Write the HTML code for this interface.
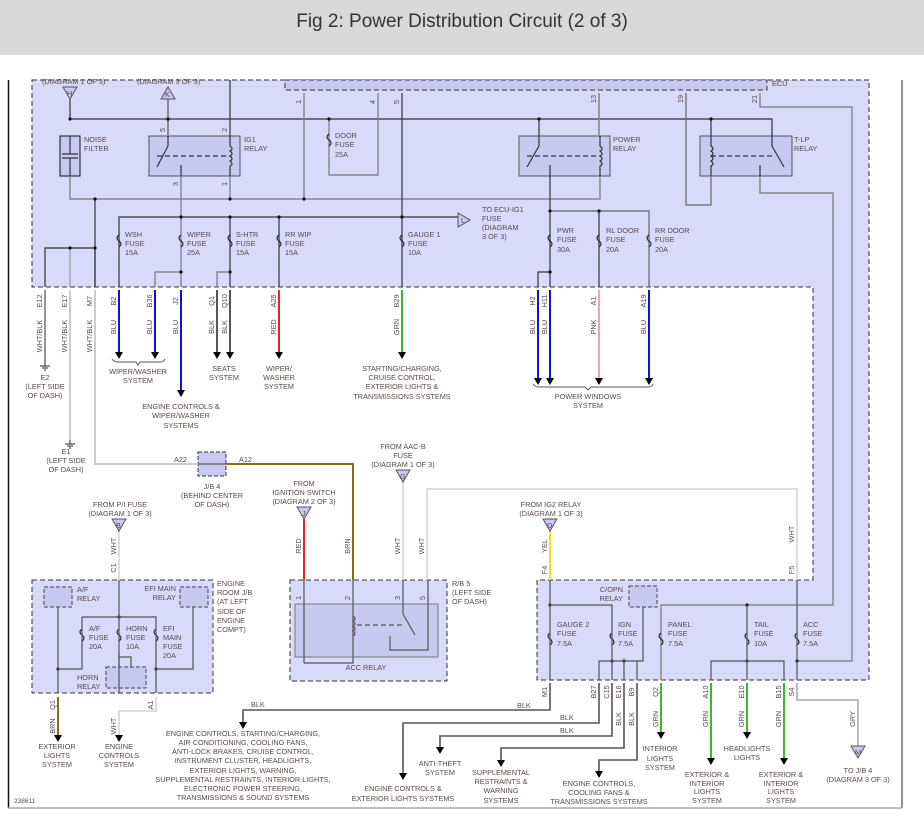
<!DOCTYPE html>
<html><head><meta charset="utf-8"><style>
html,body{margin:0;padding:0;background:#fff;width:924px;height:838px;overflow:hidden}
svg text{font-family:"Liberation Sans",sans-serif;font-size:7.3px;fill:#5a4a4a}
.r{font-size:7px}
</style></head><body>
<svg width="924" height="838" viewBox="0 0 924 838" xmlns="http://www.w3.org/2000/svg">
<rect x="0" y="0" width="924" height="55" fill="#d9d9d9"/>
<text x="462" y="27" text-anchor="middle" style="font-size:19px;fill:#333">Fig 2: Power Distribution Circuit (2 of 3)</text>
<line x1="8.5" y1="80" x2="8.5" y2="808" stroke="#111" stroke-width="1.5"/>
<line x1="902" y1="80" x2="902" y2="808" stroke="#222" stroke-width="1"/>
<line x1="8" y1="808" x2="902" y2="808" stroke="#aaa" stroke-width="1.5"/>

<!-- purple areas -->
<polygon points="32,80 869,80 869,680 537,680 537,580 813,580 813,287 32,287" fill="#d9d9fa" stroke="#333" stroke-width="1" stroke-dasharray="5,3"/>
<rect x="285" y="80" width="482" height="10" fill="#c8c8f0" stroke="#333" stroke-dasharray="5,3"/>
<rect x="32" y="580" width="181" height="113" fill="#d9d9fa" stroke="#333" stroke-dasharray="5,3"/>
<rect x="290" y="580" width="157" height="101" fill="#d9d9fa" stroke="#333" stroke-dasharray="5,3"/>
<rect x="295" y="604" width="143" height="53" fill="#c8c8f0" stroke="#777"/>
<rect x="198" y="452" width="28" height="24" fill="#c8c8f0" stroke="#333" stroke-dasharray="4,2"/>

<!-- relay boxes top -->
<rect x="60" y="136" width="20" height="40" fill="#c8c8f0" stroke="#111"/>
<rect x="149" y="136" width="91" height="40" fill="#c8c8f0" stroke="#555"/>
<rect x="519" y="136" width="91" height="40" fill="#c8c8f0" stroke="#555"/>
<rect x="700" y="136" width="92" height="40" fill="#c8c8f0" stroke="#555"/>
<rect x="44" y="587" width="28" height="20" fill="#c8c8f0" stroke="#444" stroke-dasharray="4,2"/>
<rect x="180" y="587" width="28" height="20" fill="#c8c8f0" stroke="#444" stroke-dasharray="4,2"/>
<rect x="106" y="667" width="40" height="21" fill="#c8c8f0" stroke="#444" stroke-dasharray="4,2"/>
<rect x="629" y="586" width="28" height="21" fill="#c8c8f0" stroke="#444" stroke-dasharray="4,2"/>

<g fill="none" stroke="#333" stroke-width="1.2">
<!-- top bus -->
<path d="M70,93 V119 H772 V136"/>
<path d="M168,93 V136" stroke="#888" stroke-width="2"/>
<path d="M230,80 V136"/>
<path d="M329,119 V175 H378 V93" stroke="#777"/>
<path d="M304,93 V199" stroke="#777"/>
<path d="M70,176 V199 H600 V176" stroke="#777"/>
<path d="M230,176 V199" stroke="#777"/>
<path d="M181,176 V287" stroke="#777"/>
<path d="M402,93 V287"/>
<path d="M119,287 V217 H465"/>
<path d="M230,217 V287"/><path d="M279,217 V287"/>
<path d="M45,287 V248 H95 V287"/><path d="M95,199 V287"/>
<path d="M70,248 V287" stroke="#999"/>
<path d="M155,287 V272 H181" stroke="#777"/>
<path d="M217,287 V272 H230" stroke="#777"/>
<path d="M599,93 V136" stroke="#888" stroke-width="1.6"/>
<path d="M539,119 V136"/><path d="M711,119 V136"/>
<path d="M550,176 V287"/><path d="M538,287 V272 H550"/>
<path d="M550,211 H649 V287" stroke="#666"/><path d="M599,211 V287"/>
<path d="M686,93 V205 H711 V176" stroke="#666"/>
<path d="M760,93 V107 H852 V661 H797" stroke="#777"/>
<path d="M760,176 V193 H833 V605 H661 V680" stroke="#777"/>
<!-- relay internals -->
<path d="M168,136 V146 L157,167"/><path d="M157,156 H230" stroke-dasharray="5,3"/><path d="M181,165 V176"/>
<path d="M230,136 V146 q4,3 0,5 q4,3 0,5 q4,3 0,5 q4,3 0,5 V176"/>
<path d="M539,136 V146 L527,167"/><path d="M527,156 H600" stroke-dasharray="5,3"/><path d="M550,165 V176"/>
<path d="M600,136 V146 q4,3 0,5 q4,3 0,5 q4,3 0,5 q4,3 0,5 V176"/>
<path d="M772,136 V146 L784,167"/><path d="M711,156 H772" stroke-dasharray="5,3"/><path d="M760,165 V176"/>
<path d="M711,136 V146 q4,3 0,5 q4,3 0,5 q4,3 0,5 q4,3 0,5 V176"/>
<path d="M70,136 V154 M62,154 H78 M62,158 H78 M70,158 V176"/>
</g>
<!-- fuses -->
<g fill="none" stroke="#222" stroke-width="1.1">
<path d="M119,235 q-4,3 0,6 q4,3 0,6"/><path d="M181,235 q-4,3 0,6 q4,3 0,6"/><path d="M230,235 q-4,3 0,6 q4,3 0,6"/><path d="M279,235 q-4,3 0,6 q4,3 0,6"/><path d="M402,235 q-4,3 0,6 q4,3 0,6"/><path d="M329,134 q-4,3 0,6 q4,3 0,6"/>
<path d="M550,235 q-4,3 0,6 q4,3 0,6"/><path d="M599,235 q-4,3 0,6 q4,3 0,6"/><path d="M649,235 q-4,3 0,6 q4,3 0,6"/>
<path d="M82,629 q-4,3 0,6 q4,3 0,6"/><path d="M119,629 q-4,3 0,6 q4,3 0,6"/><path d="M156,629 q-4,3 0,6 q4,3 0,6"/>
<path d="M550,633 q-4,3 0,6 q4,3 0,6"/><path d="M612,633 q-4,3 0,6 q4,3 0,6"/><path d="M661,633 q-4,3 0,6 q4,3 0,6"/><path d="M747,633 q-4,3 0,6 q4,3 0,6"/><path d="M797,633 q-4,3 0,6 q4,3 0,6"/>
</g>
<g fill="#111">
<circle cx="70" cy="119" r="1.6"/><circle cx="168" cy="119" r="1.6"/><circle cx="329" cy="119" r="1.6"/><circle cx="539" cy="119" r="1.6"/><circle cx="711" cy="119" r="1.6"/>
<circle cx="95" cy="199" r="1.6"/><circle cx="230" cy="199" r="1.6"/><circle cx="304" cy="199" r="1.6"/>
<circle cx="181" cy="217" r="1.6"/><circle cx="230" cy="217" r="1.6"/><circle cx="279" cy="217" r="1.6"/><circle cx="402" cy="217" r="1.6"/>
<circle cx="70" cy="248" r="1.6"/><circle cx="95" cy="248" r="1.6"/><circle cx="181" cy="272" r="1.6"/><circle cx="230" cy="272" r="1.6"/>
<circle cx="550" cy="211" r="1.6"/><circle cx="599" cy="211" r="1.6"/><circle cx="550" cy="272" r="1.6"/>
<circle cx="119" cy="617" r="1.6"/><circle cx="58" cy="669" r="1.6"/><circle cx="156" cy="669" r="1.6"/>
<circle cx="550" cy="605" r="1.6"/><circle cx="747" cy="605" r="1.6"/><circle cx="612" cy="661" r="1.6"/><circle cx="624" cy="661" r="1.6"/><circle cx="747" cy="661" r="1.6"/><circle cx="797" cy="661" r="1.6"/>
</g>

<!-- wires below top box -->
<g fill="none" stroke-width="2">
<path d="M45,290 V360" stroke="#666" stroke-width="1.4"/>
<path d="M70,290 V440" stroke="#ccc"/>
<path d="M95,290 V464 H198" stroke="#ccc"/>
<path d="M226,464 H353 V580" stroke="#8b6b1a"/>
<path d="M119,290 V352" stroke="#1010e0"/><path d="M155,290 V352" stroke="#1010e0"/><path d="M181,290 V390" stroke="#1010e0"/>
<path d="M217,290 V352" stroke="#555"/><path d="M230,290 V352" stroke="#555"/>
<path d="M279,290 V352" stroke="#e22"/><path d="M402,290 V352" stroke="#3bb82b"/>
<path d="M538,290 V378" stroke="#1010e0"/><path d="M550,290 V378" stroke="#1010e0"/><path d="M599,290 V378" stroke="#f4a0b0"/><path d="M649,290 V378" stroke="#1010e0"/>
<path d="M403,482 V580" stroke="#ddd"/>
<path d="M427,580 V489 H797 V580" stroke="#ddd"/>
<path d="M304,519 V580" stroke="#e22"/>
<path d="M119,531 V580" stroke="#ddd"/>
<path d="M550,531 V580" stroke="#f0e020"/>
<path d="M58,697 V735" stroke="#8b6b1a"/>
<path d="M156,697 V711 H119 V735" stroke="#ddd"/>
<path d="M661,683 V732" stroke="#3bb82b"/><path d="M711,683 V758" stroke="#3bb82b"/><path d="M747,683 V732" stroke="#3bb82b"/><path d="M784,683 V758" stroke="#3bb82b"/>
<path d="M797,683 V700 H858 V748" stroke="#bbb"/>
</g>
<g fill="none" stroke="#555" stroke-width="1.6">
<path d="M550,683 V710 H243 V722"/>
<path d="M599,683 V723 H403 V773"/>
<path d="M612,683 V736 H440 V747"/>
<path d="M624,683 V748 H501 V760"/>
<path d="M637,683 V760 H599 V771"/>
</g>
<!-- engine room internals -->
<g fill="none" stroke="#555" stroke-width="1.2">
<path d="M119,580 V693"/><path d="M82,617 H156 V693"/><path d="M82,617 V669 H58"/><path d="M58,607 V693"/><path d="M193,607 V669 H156"/>
<path d="M119,652 V657 H131 V667 M119,657 V667"/>
<path d="M304,580 V663 M304,663 H353 V604 M353,580 V604"/>
<path d="M353,616 q4,3 0,5 q4,3 0,5 q4,3 0,5 q4,3 0,5"/><path d="M357,625 H403" stroke-dasharray="5,3"/>
<path d="M403,580 V614 L415,635"/><path d="M390,636 V650 H428 V580"/>
<path d="M550,580 V680"/><path d="M550,605 H612 V680"/><path d="M643,607 V661 H599 V680"/><path d="M624,661 V680 M637,661 V680"/>
<path d="M711,680 V661 H784 V680"/><path d="M747,605 V680"/><path d="M797,580 V680"/>
<path d="M199,464 H226"/>
</g>
<!-- arrowheads -->
<g fill="#000">
<path d="M115,352h8l-4,7z"/><path d="M151,352h8l-4,7z"/><path d="M177,390h8l-4,7z"/><path d="M213,352h8l-4,7z"/><path d="M226,352h8l-4,7z"/><path d="M275,352h8l-4,7z"/><path d="M398,352h8l-4,7z"/>
<path d="M534,378h8l-4,7z"/><path d="M546,378h8l-4,7z"/><path d="M595,378h8l-4,7z"/><path d="M645,378h8l-4,7z"/>
<path d="M54,735h8l-4,7z"/><path d="M115,735h8l-4,7z"/>
<path d="M239,722h8l-4,7z"/><path d="M399,773h8l-4,7z"/><path d="M436,747h8l-4,7z"/><path d="M497,760h8l-4,7z"/><path d="M595,771h8l-4,7z"/>
<path d="M657,732h8l-4,7z"/><path d="M707,758h8l-4,7z"/><path d="M743,732h8l-4,7z"/><path d="M780,758h8l-4,7z"/>
</g>
<!-- triangles -->
<g fill="#c8c8f0" stroke="#555">
<path d="M63,87h14l-7,12z"/><path d="M161,99h14l-7,-12z"/><path d="M458,213v14l12,-7z"/>
<path d="M396,470h14l-7,12z"/><path d="M297,507h14l-7,12z"/><path d="M112,519h14l-7,12z"/><path d="M543,519h14l-7,12z"/><path d="M851,746h14l-7,12z"/>
</g>
<g style="font-size:6.5px">
<text x="67" y="96">H</text><text x="165" y="97">K</text><text x="461" y="223">L</text><text x="400" y="479">G</text><text x="302" y="516">J</text><text x="116" y="528">B</text><text x="547" y="528">D</text><text x="855" y="755">M</text>
</g>
<!-- grounds -->
<g stroke="#222" stroke-width="1"><path d="M45,360V366M40,366H50M42,368H48M44,370H46"/><path d="M70,440V444M65,444H75M67,446H73M69,448H71"/></g>
<!-- braces -->
<g fill="none" stroke="#555"><path d="M112,359 q2,3 6,3 H136 l2,3 l2,-3 H160 q4,0 5,-3"/><path d="M533,384 q2,3 6,3 H585 l3,3 l3,-3 H648 q4,0 5,-3"/></g>

<!-- labels top -->
<text x="42" y="84">(DIAGRAM 1 OF 3)</text><text x="137" y="84">(DIAGRAM 3 OF 3)</text><text x="772" y="86">ECU</text>
<text x="84" y="142">NOISE</text><text x="84" y="151">FILTER</text>
<text x="244" y="142">IG1</text><text x="244" y="151">RELAY</text>
<text x="335" y="138">DOOR</text><text x="335" y="147">FUSE</text><text x="335" y="157">25A</text>
<text x="613" y="142">POWER</text><text x="613" y="151">RELAY</text>
<text x="794" y="142">T-LP</text><text x="794" y="151">RELAY</text>
<text x="482" y="212">TO ECU-IG1</text><text x="482" y="221">FUSE</text><text x="482" y="230">(DIAGRAM</text><text x="482" y="239">3 OF 3)</text>
<g>
<text x="125" y="237">WSH</text><text x="125" y="246">FUSE</text><text x="125" y="255">15A</text>
<text x="187" y="237">WIPER</text><text x="187" y="246">FUSE</text><text x="187" y="255">25A</text>
<text x="236" y="237">S-HTR</text><text x="236" y="246">FUSE</text><text x="236" y="255">15A</text>
<text x="285" y="237">RR WIP</text><text x="285" y="246">FUSE</text><text x="285" y="255">15A</text>
<text x="408" y="237">GAUGE 1</text><text x="408" y="246">FUSE</text><text x="408" y="255">10A</text>
<text x="557" y="233">PWR</text><text x="557" y="242">FUSE</text><text x="557" y="252">30A</text>
<text x="606" y="233">RL DOOR</text><text x="606" y="242">FUSE</text><text x="606" y="252">20A</text>
<text x="655" y="233">RR DOOR</text><text x="655" y="242">FUSE</text><text x="655" y="252">20A</text>
</g>
<!-- pin numbers in ECU -->
<g class="r">
<text transform="translate(301,102) rotate(-90)" text-anchor="middle">1</text>
<text transform="translate(375,102) rotate(-90)" text-anchor="middle">4</text>
<text transform="translate(399,102) rotate(-90)" text-anchor="middle">5</text>
<text transform="translate(596,99) rotate(-90)" text-anchor="middle">13</text>
<text transform="translate(683,99) rotate(-90)" text-anchor="middle">19</text>
<text transform="translate(757,99) rotate(-90)" text-anchor="middle">21</text>
<text transform="translate(165,130) rotate(-90)" text-anchor="middle">5</text>
<text transform="translate(227,130) rotate(-90)" text-anchor="middle">2</text>
<text transform="translate(178,184) rotate(-90)" text-anchor="middle">3</text>
<text transform="translate(227,184) rotate(-90)" text-anchor="middle">1</text>
</g>
<!-- rotated wire labels -->
<g class="r" text-anchor="middle">
<text transform="translate(42,301) rotate(-90)">E12</text><text transform="translate(42,336) rotate(-90)">WHT/BLK</text>
<text transform="translate(67,301) rotate(-90)">E17</text><text transform="translate(67,336) rotate(-90)">WHT/BLK</text>
<text transform="translate(92,301) rotate(-90)">M7</text><text transform="translate(92,336) rotate(-90)">WHT/BLK</text>
<text transform="translate(116,301) rotate(-90)">B2</text><text transform="translate(116,327) rotate(-90)">BLU</text>
<text transform="translate(152,301) rotate(-90)">B36</text><text transform="translate(152,327) rotate(-90)">BLU</text>
<text transform="translate(178,301) rotate(-90)">J2</text><text transform="translate(178,327) rotate(-90)">BLU</text>
<text transform="translate(214,301) rotate(-90)">Q1</text><text transform="translate(214,327) rotate(-90)">BLK</text>
<text transform="translate(227,301) rotate(-90)">Q10</text><text transform="translate(227,327) rotate(-90)">BLK</text>
<text transform="translate(276,301) rotate(-90)">A25</text><text transform="translate(276,327) rotate(-90)">RED</text>
<text transform="translate(399,301) rotate(-90)">B29</text><text transform="translate(399,327) rotate(-90)">GRN</text>
<text transform="translate(535,301) rotate(-90)">H2</text><text transform="translate(535,327) rotate(-90)">BLU</text>
<text transform="translate(547,301) rotate(-90)">H11</text><text transform="translate(547,327) rotate(-90)">BLU</text>
<text transform="translate(596,301) rotate(-90)">A1</text><text transform="translate(596,327) rotate(-90)">PNK</text>
<text transform="translate(646,301) rotate(-90)">A19</text><text transform="translate(646,327) rotate(-90)">BLU</text>
<text transform="translate(301,546) rotate(-90)">RED</text><text transform="translate(350,546) rotate(-90)">BRN</text>
<text transform="translate(400,546) rotate(-90)">WHT</text><text transform="translate(424,546) rotate(-90)">WHT</text>
<text transform="translate(116,546) rotate(-90)">WHT</text><text transform="translate(116,568) rotate(-90)">C1</text>
<text transform="translate(547,546) rotate(-90)">YEL</text><text transform="translate(547,570) rotate(-90)">F4</text>
<text transform="translate(794,534) rotate(-90)">WHT</text><text transform="translate(794,570) rotate(-90)">F5</text>
<text transform="translate(55,705) rotate(-90)">Q1</text><text transform="translate(55,726) rotate(-90)">BRN</text>
<text transform="translate(153,705) rotate(-90)">A1</text><text transform="translate(116,726) rotate(-90)">WHT</text>
<text transform="translate(547,692) rotate(-90)">M1</text>
<text transform="translate(596,692) rotate(-90)">B27</text><text transform="translate(609,692) rotate(-90)">C15</text>
<text transform="translate(621,692) rotate(-90)">E16</text><text transform="translate(634,692) rotate(-90)">B9</text>
<text transform="translate(621,719) rotate(-90)">BLK</text><text transform="translate(634,719) rotate(-90)">BLK</text>
<text transform="translate(658,692) rotate(-90)">Q2</text><text transform="translate(658,719) rotate(-90)">GRN</text>
<text transform="translate(708,692) rotate(-90)">A10</text><text transform="translate(708,719) rotate(-90)">GRN</text>
<text transform="translate(744,692) rotate(-90)">E10</text><text transform="translate(744,719) rotate(-90)">GRN</text>
<text transform="translate(781,692) rotate(-90)">B15</text><text transform="translate(781,719) rotate(-90)">GRN</text>
<text transform="translate(794,692) rotate(-90)">S4</text><text transform="translate(855,719) rotate(-90)">GRY</text>
<text transform="translate(301,598) rotate(-90)">1</text><text transform="translate(350,598) rotate(-90)">2</text><text transform="translate(400,598) rotate(-90)">3</text><text transform="translate(425,598) rotate(-90)">5</text>
</g>
<!-- center labels -->
<g text-anchor="middle">
<text x="45" y="380">E2</text><text x="45" y="389">(LEFT SIDE</text><text x="45" y="398">OF DASH)</text>
<text x="66" y="454">E1</text><text x="66" y="463">(LEFT SIDE</text><text x="66" y="472">OF DASH)</text>
<text x="138" y="374">WIPER/WASHER</text><text x="138" y="383">SYSTEM</text>
<text x="224" y="371">SEATS</text><text x="224" y="380">SYSTEM</text>
<text x="279" y="371">WIPER/</text><text x="279" y="380">WASHER</text><text x="279" y="389">SYSTEM</text>
<text x="181" y="409">ENGINE CONTROLS &amp;</text><text x="181" y="418">WIPER/WASHER</text><text x="181" y="428">SYSTEMS</text>
<text x="402" y="371">STARTING/CHARGING,</text><text x="402" y="380">CRUISE CONTROL,</text><text x="402" y="389">EXTERIOR LIGHTS &amp;</text><text x="402" y="399">TRANSMISSIONS SYSTEMS</text>
<text x="588" y="399">POWER WINDOWS</text><text x="588" y="408">SYSTEM</text>
<text x="403" y="449">FROM AAC-B</text><text x="403" y="458">FUSE</text><text x="403" y="467">(DIAGRAM 1 OF 3)</text>
<text x="304" y="486">FROM</text><text x="304" y="495">IGNITION SWITCH</text><text x="304" y="504">(DIAGRAM 2 OF 3)</text>
<text x="120" y="507">FROM P/I FUSE</text><text x="120" y="516">(DIAGRAM 1 OF 3)</text>
<text x="551" y="507">FROM IG2 RELAY</text><text x="551" y="516">(DIAGRAM 1 OF 3)</text>
<text x="212" y="489">J/B 4</text><text x="212" y="498">(BEHIND CENTER</text><text x="212" y="507">OF DASH)</text>
<text x="366" y="670">ACC RELAY</text>
<text x="57" y="749">EXTERIOR</text><text x="57" y="758">LIGHTS</text><text x="57" y="767">SYSTEM</text>
<text x="119" y="749">ENGINE</text><text x="119" y="758">CONTROLS</text><text x="119" y="767">SYSTEM</text>
<text x="243" y="736">ENGINE CONTROLS, STARTING/CHARGING,</text><text x="243" y="745">AIR CONDITIONING, COOLING FANS,</text><text x="243" y="754">ANTI-LOCK BRAKES, CRUISE CONTROL,</text><text x="243" y="763">INSTRUMENT CLUSTER, HEADLIGHTS,</text><text x="243" y="773">EXTERIOR LIGHTS, WARNING,</text><text x="243" y="782">SUPPLEMENTAL RESTRAINTS, INTERIOR LIGHTS,</text><text x="243" y="791">ELECTRONIC POWER STEERING,</text><text x="243" y="800">TRANSMISSIONS &amp; SOUND SYSTEMS</text>
<text x="403" y="791">ENGINE CONTROLS &amp;</text><text x="403" y="801">EXTERIOR LIGHTS SYSTEMS</text>
<text x="440" y="766">ANTI-THEFT</text><text x="440" y="775">SYSTEM</text>
<text x="501" y="775">SUPPLEMENTAL</text><text x="501" y="784">RESTRAINTS &amp;</text><text x="501" y="793">WARNING</text><text x="501" y="803">SYSTEMS</text>
<text x="599" y="786">ENGINE CONTROLS,</text><text x="599" y="795">COOLING FANS &amp;</text><text x="599" y="804">TRANSMISSIONS SYSTEMS</text>
<text x="660" y="751">INTERIOR</text><text x="660" y="761">LIGHTS</text><text x="660" y="770">SYSTEM</text>
<text x="707" y="777">EXTERIOR &amp;</text><text x="707" y="786">INTERIOR</text><text x="707" y="794">LIGHTS</text><text x="707" y="803">SYSTEM</text>
<text x="747" y="751">HEADLIGHTS</text><text x="747" y="760">LIGHTS</text>
<text x="781" y="777">EXTERIOR &amp;</text><text x="781" y="786">INTERIOR</text><text x="781" y="794">LIGHTS</text><text x="781" y="803">SYSTEM</text>
<text x="858" y="773">TO J/B 4</text><text x="858" y="782">(DIAGRAM 3 OF 3)</text>
</g>
<text x="174" y="462">A22</text><text x="239" y="462">A12</text>
<text x="217" y="586">ENGINE</text><text x="217" y="595">ROOM J/B</text><text x="217" y="604">(AT LEFT</text><text x="217" y="614">SIDE OF</text><text x="217" y="623">ENGINE</text><text x="217" y="632">COMPT)</text>
<text x="77" y="592">A/F</text><text x="77" y="601">RELAY</text>
<text x="176" y="591" text-anchor="end">EFI MAIN</text><text x="176" y="600" text-anchor="end">RELAY</text>
<text x="89" y="631">A/F</text><text x="89" y="640">FUSE</text><text x="89" y="649">20A</text>
<text x="126" y="631">HORN</text><text x="126" y="640">FUSE</text><text x="126" y="649">10A</text>
<text x="163" y="631">EFI</text><text x="163" y="640">MAIN</text><text x="163" y="649">FUSE</text><text x="163" y="658">20A</text>
<text x="77" y="680">HORN</text><text x="77" y="689">RELAY</text>
<text x="452" y="586">R/B 5</text><text x="452" y="595">(LEFT SIDE</text><text x="452" y="604">OF DASH)</text>
<text x="623" y="592" text-anchor="end">C/OPN</text><text x="623" y="601" text-anchor="end">RELAY</text>
<text x="557" y="627">GAUGE 2</text><text x="557" y="636">FUSE</text><text x="557" y="646">7.5A</text>
<text x="618" y="627">IGN</text><text x="618" y="636">FUSE</text><text x="618" y="646">7.5A</text>
<text x="668" y="627">PANEL</text><text x="668" y="636">FUSE</text><text x="668" y="646">7.5A</text>
<text x="754" y="627">TAIL</text><text x="754" y="636">FUSE</text><text x="754" y="646">10A</text>
<text x="803" y="627">ACC</text><text x="803" y="636">FUSE</text><text x="803" y="646">7.5A</text>
<text x="517" y="708">BLK</text><text x="251" y="707">BLK</text><text x="560" y="720">BLK</text><text x="560" y="733">BLK</text>
<text x="14" y="803" style="font-size:6.5px">238611</text>
</svg>
</body></html>
